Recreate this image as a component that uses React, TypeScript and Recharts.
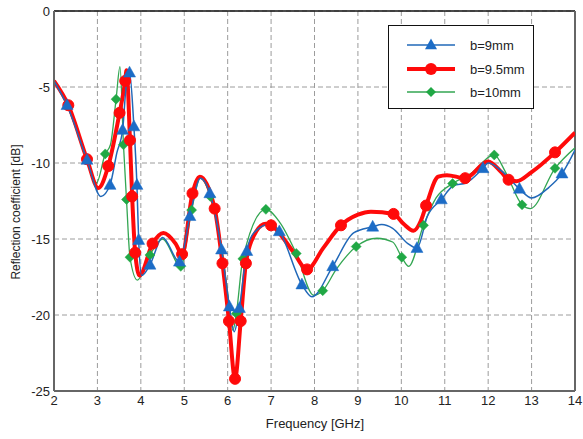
import React from 'react';
import { LineChart, Line, XAxis, YAxis, CartesianGrid, ReferenceLine, Legend } from 'recharts';

const W = 583;
const H = 439;
const FONT = '"Liberation Sans", Arial, Helvetica, sans-serif';

const xTicks = [2, 3, 4, 5, 6, 7, 8, 9, 10, 11, 12, 13, 14];
const yTicks = [0, -5, -10, -15, -20, -25];

// b = 9.5 mm (red, circles)
const redFreq = [2.0, 2.33, 2.76, 3.02, 3.25, 3.51, 3.64, 3.67, 3.75, 3.8, 3.87, 3.97, 4.27, 4.52, 4.8, 4.95, 5.19, 5.36, 5.7, 5.88, 6.03, 6.17, 6.3, 6.42, 6.6, 6.88, 7.0, 7.5, 7.83, 8.2, 8.61, 9.0, 9.3, 9.82, 10.05, 10.28, 10.45, 10.57, 10.85, 11.05, 11.47, 12.0, 12.3, 12.47, 12.65, 13.0, 13.54, 14.0];
const redVal = [-4.6, -6.2, -9.75, -11.65, -10.2, -6.7, -4.6, -3.9, -8.5, -12.2, -15.9, -17.4, -15.3, -14.6, -15.3, -16.0, -12.0, -10.9, -13.0, -16.6, -20.4, -24.2, -20.4, -16.6, -14.8, -14.0, -14.1, -15.8, -17.0, -15.6, -14.1, -13.4, -13.2, -13.35, -14.0, -14.45, -13.8, -12.8, -10.9, -10.8, -11.0, -9.9, -10.6, -11.1, -11.2, -10.6, -9.3, -8.0];
const redMarks = [2.33, 2.76, 3.25, 3.51, 3.64, 3.75, 3.8, 3.87, 4.27, 4.95, 5.19, 5.7, 5.88, 6.03, 6.17, 6.3, 6.42, 7.0, 7.83, 8.61, 9.82, 10.57, 11.47, 12.47, 13.54];

// b = 9 mm (blue, triangles)
const blueFreq = [2.0, 2.3, 2.76, 3.08, 3.29, 3.45, 3.58, 3.66, 3.74, 3.84, 3.91, 3.95, 4.02, 4.21, 4.5, 4.89, 5.13, 5.37, 5.59, 5.86, 6.04, 6.15, 6.27, 6.44, 6.6, 7.0, 7.19, 7.71, 7.94, 8.42, 8.9, 9.34, 9.55, 9.8, 10.15, 10.36, 10.6, 10.92, 11.2, 11.5, 11.88, 12.0, 12.3, 12.72, 13.0, 13.4, 13.7, 14.0];
const blueVal = [-4.6, -6.2, -9.8, -12.2, -11.45, -9.3, -7.83, -5.0, -4.06, -7.6, -11.45, -15.07, -17.4, -16.7, -14.9, -16.5, -13.5, -11.0, -12.0, -15.7, -19.45, -21.1, -19.55, -15.8, -14.6, -14.0, -14.5, -18.0, -18.8, -16.8, -14.6, -14.2, -14.05, -14.3, -15.3, -15.6, -13.5, -12.4, -11.5, -11.3, -10.35, -10.0, -10.5, -11.7, -12.3, -11.6, -10.7, -9.15];
const blueMarks = [2.3, 2.76, 3.29, 3.58, 3.74, 3.84, 3.91, 3.95, 4.21, 4.89, 5.13, 5.59, 5.86, 6.04, 6.27, 6.44, 7.19, 7.71, 8.42, 9.34, 10.36, 10.92, 11.88, 12.72, 13.7];

// b = 10 mm (green, diamonds)
const greenFreq = [2.0, 2.3, 2.76, 2.98, 3.18, 3.3, 3.43, 3.52, 3.6, 3.67, 3.75, 3.92, 4.21, 4.5, 4.92, 5.17, 5.37, 5.6, 5.86, 6.02, 6.12, 6.2, 6.35, 6.88, 7.2, 7.58, 7.98, 8.19, 8.5, 8.96, 9.44, 9.8, 10.01, 10.17, 10.51, 10.8, 11.18, 11.6, 12.14, 12.4, 12.78, 12.97, 13.54, 14.0];
const greenVal = [-4.6, -6.2, -9.7, -11.3, -9.4, -8.8, -5.8, -3.66, -8.8, -12.4, -16.2, -17.7, -16.05, -15.0, -16.8, -13.1, -11.0, -12.2, -15.5, -19.0, -21.0, -19.9, -16.3, -13.05, -13.9, -15.95, -18.7, -18.4, -17.0, -15.5, -14.95, -15.2, -16.2, -16.8, -14.1, -12.3, -11.35, -10.7, -9.47, -10.6, -12.75, -13.0, -10.35, -9.0];
const greenMarks = [3.18, 3.43, 3.6, 3.67, 3.75, 4.21, 4.92, 5.17, 5.6, 6.2, 6.35, 6.88, 7.58, 8.19, 8.96, 10.01, 10.51, 11.18, 12.14, 12.78, 13.54];

const build = (xs: number[], ys: number[], marks: number[]) =>
  xs.map((x, i) => ({ x, y: ys[i], m: marks.includes(x) }));

const redData = build(redFreq, redVal, redMarks);
const blueData = build(blueFreq, blueVal, blueMarks);
const greenData = build(greenFreq, greenVal, greenMarks);

const RED = '#ff0a0a';
const BLUE = '#2168b8';
const BLUE_M = '#1c6cc6';
const GREEN = '#33a652';
const GREEN_M = '#20a845';

const tri = (cx: number, cy: number, s = 12) => {
  const h = s * 0.9;
  return `${cx},${cy - h * 0.6} ${cx + s / 2},${cy + h * 0.4} ${cx - s / 2},${cy + h * 0.4}`;
};
const dia = (cx: number, cy: number, r = 5) => `${cx},${cy - r} ${cx + r},${cy} ${cx},${cy + r} ${cx - r},${cy}`;

const makeDot = (kind: string) => (props: any) => {
  const { cx, cy, payload, index } = props;
  const key = `${kind}-${index}`;
  if (!payload || !payload.m || cx == null || cy == null) return <g key={key} />;
  if (kind === 'circle') return <circle key={key} cx={cx} cy={cy} r={5.5} fill={RED} stroke={RED} />;
  if (kind === 'tri') return <polygon key={key} points={tri(cx, cy)} fill={BLUE_M} stroke={BLUE_M} strokeWidth={0.5} />;
  return <polygon key={key} points={dia(cx, cy)} fill={GREEN_M} stroke={GREEN_M} strokeWidth={0.5} />;
};

const LegendBox = () => (
  <div style={{ width: 146, height: 84, border: '1px solid #111', background: '#fff', boxSizing: 'border-box' }}>
    <svg width={144} height={82} style={{ display: 'block' }}>
      <line x1={18} x2={66} y1={19} y2={19} stroke={BLUE} strokeWidth={1.5} />
      <polygon points={tri(42, 19)} fill={BLUE_M} />
      <text x={81} y={19} dominantBaseline="central" fontSize={13} fill="#222" fontFamily={FONT}>b=9mm</text>
      <line x1={18} x2={66} y1={43} y2={43} stroke={RED} strokeWidth={4} />
      <circle cx={42} cy={43} r={6} fill={RED} />
      <text x={81} y={43} dominantBaseline="central" fontSize={13} fill="#222" fontFamily={FONT}>b=9.5mm</text>
      <line x1={18} x2={66} y1={66} y2={66} stroke={GREEN} strokeWidth={1.3} />
      <polygon points={dia(42, 66)} fill={GREEN_M} />
      <text x={81} y={66} dominantBaseline="central" fontSize={13} fill="#222" fontFamily={FONT}>b=10mm</text>
    </svg>
  </div>
);

export default function App() {
  return (
    <div style={{ position: 'absolute', left: 0, top: 0, width: W, height: H, background: '#fff' }}>
      <LineChart width={W} height={H} margin={{ top: 11, right: 8, bottom: 0, left: 0 }}>
        <CartesianGrid stroke="#9c9c9c" strokeDasharray="5 3" strokeWidth={1} />
        <XAxis
          type="number"
          dataKey="x"
          domain={[2, 14]}
          ticks={xTicks}
          allowDataOverflow
          height={48}
          tickLine={false}
          tickSize={5}
          tickMargin={0}
          axisLine={{ stroke: '#666', strokeWidth: 2 }}
          tick={{ fill: '#222', fontSize: 13, fontFamily: FONT }}
          label={{
            content: () => (
              <text x={315} y={423} textAnchor="middle" dominantBaseline="central" fontSize={13} fill="#222" fontFamily={FONT}>
                Frequency [GHz]
              </text>
            ),
          }}
        />
        <YAxis
          type="number"
          dataKey="y"
          domain={[-25, 0]}
          ticks={yTicks}
          allowDataOverflow
          width={54}
          tickLine={false}
          tickSize={4}
          tickMargin={0}
          axisLine={{ stroke: '#666', strokeWidth: 2 }}
          tick={{ fill: '#222', fontSize: 13, fontFamily: FONT }}
          label={{
            content: () => (
              <text x={16} y={212} transform="rotate(-90, 16, 212)" textAnchor="middle" dominantBaseline="central" fontSize={12} fill="#222" fontFamily={FONT}>
                Reflection coefficient [dB]
              </text>
            ),
          }}
        />
        <ReferenceLine y={0} stroke="#111" strokeWidth={1.5} />
        <ReferenceLine x={14} stroke="#666" strokeWidth={2} />
        <Line data={greenData} dataKey="y" type="monotone" stroke={GREEN} strokeWidth={1.3} dot={makeDot('dia')} activeDot={false} isAnimationActive={false} name="b=10mm" />
        <Line data={redData} dataKey="y" type="monotone" stroke={RED} strokeWidth={4} dot={makeDot('circle')} activeDot={false} isAnimationActive={false} name="b=9.5mm" />
        <Line data={blueData} dataKey="y" type="monotone" stroke={BLUE} strokeWidth={1.5} dot={makeDot('tri')} activeDot={false} isAnimationActive={false} name="b=9mm" />
        <Legend
          layout="horizontal"
          verticalAlign="middle"
          align="center"
          wrapperStyle={{ left: 388, top: 25, width: 146, height: 84 }}
          content={() => <LegendBox />}
        />
      </LineChart>
    </div>
  );
}
